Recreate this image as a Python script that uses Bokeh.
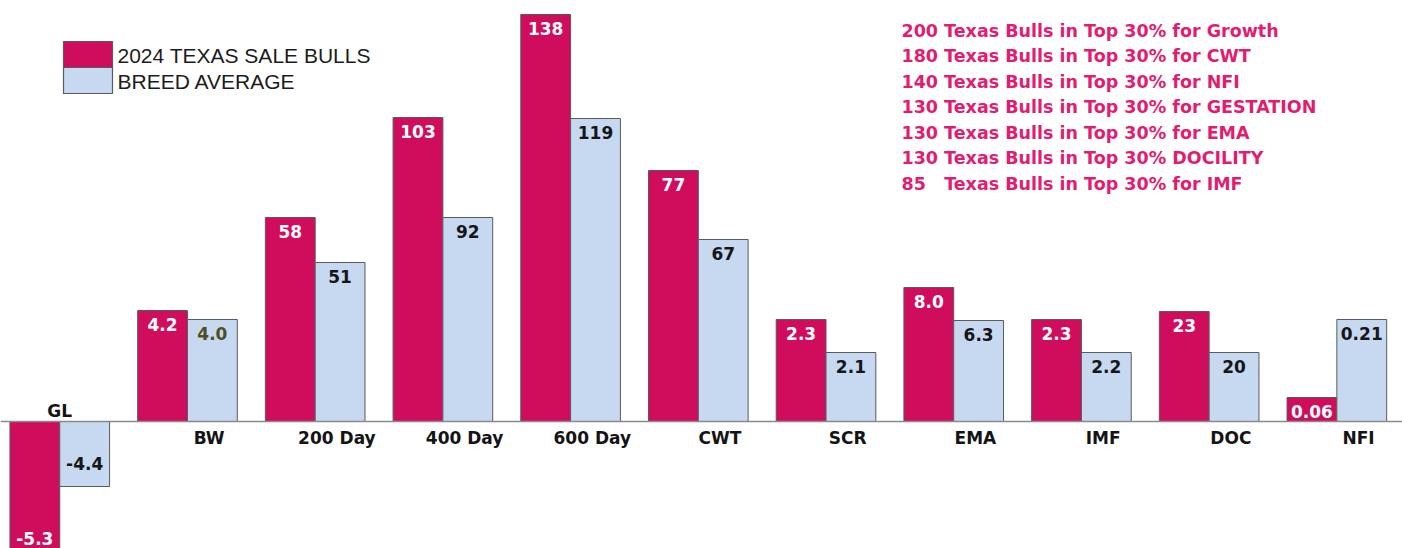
import numpy as np
from bokeh.plotting import figure
from bokeh.models import ColumnDataSource, Range1d, Span, Label, BoxAnnotation
from bokeh.transform import dodge
from bokeh.core.properties import value
from bokeh.embed import file_html
from bokeh.resources import INLINE

# ---------------- data ----------------
categories = ["GL", "BW", "200 Day", "400 Day", "600 Day", "CWT",
              "SCR", "EMA", "IMF", "DOC", "NFI"]
series_names = ["2024 TEXAS SALE BULLS", "BREED AVERAGE"]

bull_values = [-5.3, 4.2, 58, 103, 138, 77, 2.3, 8.0, 2.3, 23, 0.06]
breed_values = [-4.4, 4.0, 51, 92, 119, 67, 2.1, 6.3, 2.2, 20, 0.21]
bull_decimals = [1, 1, 0, 0, 0, 0, 1, 1, 1, 0, 2]
breed_decimals = [1, 1, 0, 0, 0, 0, 1, 1, 1, 0, 2]

# drawn bar heights (each trait has its own scale)
bull_heights = [-141, 111, 204, 304, 407, 251, 102, 134, 102, 110, 24]
breed_heights = [-65, 102, 159, 204, 303, 182, 69, 101, 69, 69, 102]

notes = [
    "200 Texas Bulls in Top 30% for Growth",
    "180 Texas Bulls in Top 30% for CWT",
    "140 Texas Bulls in Top 30% for NFI",
    "130 Texas Bulls in Top 30% for GESTATION",
    "130 Texas Bulls in Top 30% for EMA",
    "130 Texas Bulls in Top 30% DOCILITY",
    "85\u00a0\u00a0\u00a0Texas Bulls in Top 30% for IMF",
]

# ---------------- style ----------------
RED = "#d00c5c"
BLUE = "#c6d9f0"
EDGE = "#5a5a5a"
PINK = "#e21d70"
BOLD_FONT = value("DejaVu Sans")
W, H = 1402, 548

idx = np.arange(len(categories))
bh = np.array(bull_heights)
rh = np.array(breed_heights)

src = ColumnDataSource(dict(
    x=idx,
    bull=bh,
    breed=rh,
    bull_txt=[f"{v:.{d}f}" for v, d in zip(bull_values, bull_decimals)],
    breed_txt=[f"{v:.{d}f}" for v, d in zip(breed_values, breed_decimals)],
    bull_off=np.where(bh >= 0, 14, -24),
    breed_off=np.where(rh >= 0, 14, -23),
    breed_col=["#4f4f22" if c == "BW" else "#161616" for c in categories],
    cat=categories,
    cat_x=idx + np.where(bh < 0, 0.0, 0.17),
    cat_off=np.where(bh < 0, -11, 16),
    zero=np.zeros(len(categories)),
))

p = figure(width=W, height=H,
           x_range=Range1d(-0.464, 10.514), y_range=Range1d(-127, 421),
           output_backend="svg", toolbar_location=None,
           x_axis_location=None, y_axis_location=None,
           min_border=0, outline_line_color=None)
p.xgrid.visible = False
p.ygrid.visible = False
p.background_fill_color = "white"
p.border_fill_color = "white"

bw = 0.39
r1 = p.vbar(x=dodge("x", -bw / 2), top="bull", bottom=0, width=bw, source=src,
            fill_color=RED, line_color=EDGE, line_width=1)
r2 = p.vbar(x=dodge("x", bw / 2), top="breed", bottom=0, width=bw, source=src,
            fill_color=BLUE, line_color=EDGE, line_width=1)

p.add_layout(Span(location=0, dimension="width", line_color="#8a8a8a", line_width=1.6))

p.text(x=dodge("x", -bw / 2), y="bull", text="bull_txt", y_offset="bull_off", source=src,
       text_font=BOLD_FONT, text_font_style="bold", text_font_size="17px",
       text_color="white", text_align="center", text_baseline="middle")
p.text(x=dodge("x", bw / 2), y="breed", text="breed_txt", y_offset="breed_off", source=src,
       text_font=BOLD_FONT, text_font_style="bold", text_font_size="17px",
       text_color="breed_col", text_align="center", text_baseline="middle")
p.text(x="cat_x", y="zero", text="cat", y_offset="cat_off", source=src,
       text_font=BOLD_FONT, text_font_style="bold", text_font_size="17px",
       text_color="#141414", text_align="center", text_baseline="middle")

# legend (swatches stacked and touching, as in the original)
sw_left, sw_right, sw_top, sw_h = 63, 112, 41, 26
for k, (name, col) in enumerate(zip(series_names, [RED, BLUE])):
    top = H - (sw_top + k * sw_h)
    p.add_layout(BoxAnnotation(left=sw_left, right=sw_right, top=top, bottom=top - sw_h,
                               left_units="screen", right_units="screen",
                               top_units="screen", bottom_units="screen",
                               fill_color=col, fill_alpha=1.0,
                               line_color=EDGE, line_alpha=1.0, line_width=1.2))
    p.add_layout(Label(x=sw_right + 5, y=top - sw_h / 2 - 1, x_units="screen", y_units="screen",
                       text=name, text_font="Liberation Sans", text_font_size="21px",
                       text_color="#1c1c1c", text_baseline="middle", text_align="left"))

for k, t in enumerate(notes):
    p.add_layout(Label(x=901, y=H - (30 + k * 25.5), x_units="screen", y_units="screen",
                       text=t, text_font="DejaVu Sans", text_font_style="bold",
                       text_font_size="17.5px", text_color=PINK,
                       text_baseline="middle", text_align="left"))

open("out.html", "w").write(file_html(p, INLINE))
